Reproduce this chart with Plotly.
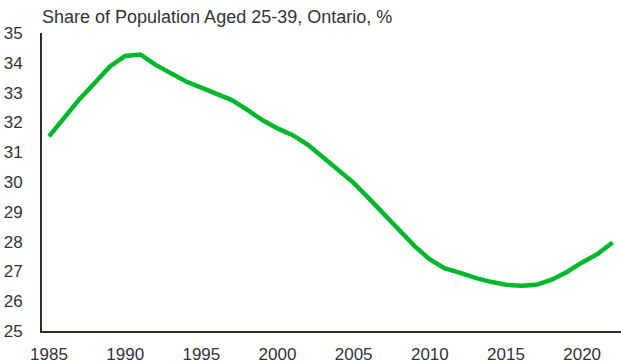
import plotly.graph_objects as go

years = list(range(1985, 2023))
share = [31.53, 32.15, 32.78, 33.32, 33.88, 34.23, 34.28, 33.93, 33.63, 33.37,
         33.17, 32.95, 32.75, 32.43, 32.08, 31.80, 31.57, 31.25, 30.82, 30.40,
         29.97, 29.45, 28.92, 28.38, 27.85, 27.40, 27.10, 26.95, 26.78, 26.65,
         26.55, 26.52, 26.55, 26.72, 26.98, 27.30, 27.58, 27.97]
title = "Share of Population Aged 25-39, Ontario, %"
x_ticks = [1985, 1990, 1995, 2000, 2005, 2010, 2015, 2020]
y_ticks = list(range(25, 36))

fig = go.Figure(go.Scatter(x=years, y=share, mode="lines",
                           line=dict(color="#00B82A", width=4.5),
                           hoverinfo="skip"))

fig.update_layout(
    width=621, height=364,
    margin=dict(l=42, r=0, t=33, b=29),
    paper_bgcolor="white", plot_bgcolor="white",
    font=dict(family="Liberation Sans, Arial, sans-serif", size=17, color="#333333"),
    showlegend=False,
    title=dict(text=title, x=42/621, xanchor="left", y=1-17/364, yanchor="middle",
               font=dict(size=18, color="#333333")),
    xaxis=dict(range=[1984.54, 2022.55], tickvals=x_ticks, showgrid=False,
               zeroline=False, showline=True, linecolor="#2B2F1F", linewidth=2,
               ticks="", ticklabelstandoff=7),
    yaxis=dict(range=[25, 35], tickvals=y_ticks, showgrid=False, zeroline=False,
               showline=True, linecolor="#2B2F1F", linewidth=2, ticks="",
               ticklabelstandoff=14),
)

fig.write_html("out.html")
